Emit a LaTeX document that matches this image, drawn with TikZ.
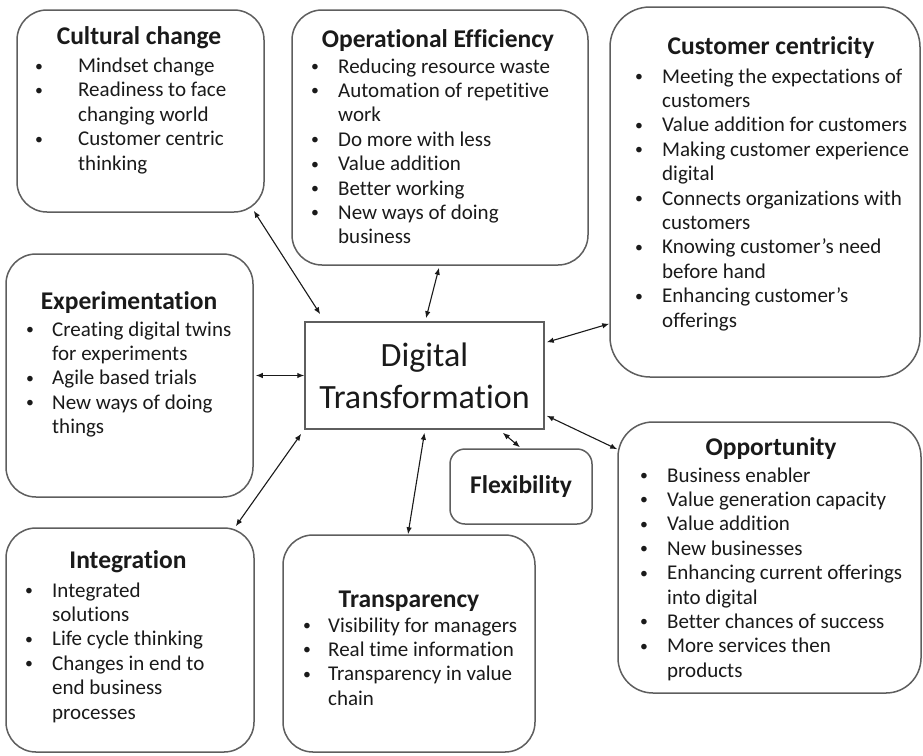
\documentclass[tikz,border=0pt]{standalone}
\usepackage{fontspec}
\setmainfont{Carlito}[Ligatures={NoCommon}]
\usetikzlibrary{arrows.meta, positioning}

\definecolor{edgegray}{HTML}{5E5E5E}
\definecolor{inkblack}{HTML}{1A1A1A}

\newlength{\bulw}
\newcommand{\itm}{\makebox[\bulw][l]{\raisebox{1.5pt}{\scalebox{0.75}{\textbullet}}}}
\newcommand{\cnt}{\hspace*{\bulw}}
\newcommand{\blist}[2]{\setlength{\bulw}{#1}\begin{tabular}[t]{@{}l@{}}#2\end{tabular}}

\begin{document}
\begin{tikzpicture}[
    x=1pt, y=-1pt,
    card/.style={rectangle, rounded corners=30pt, draw=edgegray, line width=1.5pt, inner sep=0pt},
    hub/.style={rectangle, draw=edgegray, line width=1.5pt, minimum width=239pt, minimum height=107pt, align=center, font=\fontsize{34}{42}\selectfont, text=inkblack},
    head/.style={anchor=base, inner sep=0pt, font=\fontsize{25.5}{30}\selectfont\bfseries, text=inkblack},
    items/.style={anchor=base west, inner sep=0pt, font=\fontsize{21}{24.4}\selectfont, text=inkblack},
    arrow/.style={{Latex[length=7pt,width=5.5pt]}-{Latex[length=7pt,width=5.5pt]}, line width=1.1pt, draw=inkblack}
]
\fill[white] (0,0) rectangle (923,755);
\useasboundingbox (0,0) rectangle (923,755);

% Centre
\node[hub] (dt) at (424.5,375.5) {Digital\\Transformation};

% Surrounding boxes
\node[card, minimum width=247pt, minimum height=202pt] (cult) at (140.5,111) {};
\node[card, minimum width=296pt, minimum height=255pt] (opeff) at (440,137.5) {};
\node[card, rounded corners=40pt, minimum width=310pt, minimum height=370pt] (cust) at (765,192) {};
\node[card, minimum width=247pt, minimum height=243pt] (exper) at (129.5,375.5) {};
\node[card, minimum width=248pt, minimum height=224pt] (integ) at (130,640) {};
\node[card, minimum width=252pt, minimum height=217pt] (transp) at (409,643.5) {};
\node[card, rounded corners=35pt, minimum width=303pt, minimum height=271pt] (opp) at (769.5,557.5) {};
\node[card, rounded corners=15pt, minimum width=142pt, minimum height=75pt,
      font=\fontsize{25.5}{30}\selectfont\bfseries, text=inkblack] (flex) at (521,486.5) {Flexibility};

% Headings
\node[head] (cult-t) at (139,44) {Cultural change};
\node[head] (opeff-t) at (438,47) {Operational Efficiency};
\node[head] (cust-t) at (771,54) {Customer centricity};
\node[head] (exper-t) at (129,309) {Experimentation};
\node[head] (integ-t) at (128,568) {Integration};
\node[head] (transp-t) at (409,607) {Transparency};
\node[head] (opp-t) at (771,455) {Opportunity};

% Bullet lists
\node[items] (cult-l) at (35,72.5) {\blist{43pt}{%
  \itm Mindset change\\
  \itm Readiness to face\\
  \cnt changing world\\
  \itm Customer centric\\
  \cnt thinking}};
\node[items] (opeff-l) at (311,73) {\blist{27pt}{%
  \itm Reducing resource waste\\
  \itm Automation of repetitive\\
  \cnt work\\
  \itm Do more with less\\
  \itm Value addition\\
  \itm Better working\\
  \itm New ways of doing\\
  \cnt business}};
\node[items] (cust-l) at (635,83) {\blist{27pt}{%
  \itm Meeting the expectations of\\
  \cnt customers\\
  \itm Value addition for customers\\
  \itm Making customer experience\\
  \cnt digital\\
  \itm Connects organizations with\\
  \cnt customers\\
  \itm Knowing customer’s need\\
  \cnt before hand\\
  \itm Enhancing customer’s\\
  \cnt offerings}};
\node[items] (exper-l) at (26,336) {\blist{26pt}{%
  \itm Creating digital twins\\
  \cnt for experiments\\
  \itm Agile based trials\\
  \itm New ways of doing\\
  \cnt things}};
\node[items] (integ-l) at (25,597) {\blist{27pt}{%
  \itm Integrated\\
  \cnt solutions\\
  \itm Life cycle thinking\\
  \itm Changes in end to\\
  \cnt end business\\
  \cnt processes}};
\node[items] (transp-l) at (303,632) {\blist{25pt}{%
  \itm Visibility for managers\\
  \itm Real time information\\
  \itm Transparency in value\\
  \cnt chain}};
\node[items] (opp-l) at (640,482) {\blist{27pt}{%
  \itm Business enabler\\
  \itm Value generation capacity\\
  \itm Value addition\\
  \itm New businesses\\
  \itm Enhancing current offerings\\
  \cnt into digital\\
  \itm Better chances of success\\
  \itm More services then\\
  \cnt products}};

% Arrows
\draw[arrow] ([shift={(-11,-2)}]cult.south east) -- ([shift={(16,-7)}]dt.north west);
\draw[arrow] ([shift={(-1,2)}]opeff.south) -- ([shift={(1.5,-3)}]dt.north);
\draw[arrow] ([shift={(0,-54)}]cust.south west) -- ([shift={(2,21)}]dt.north east);
\draw[arrow] ([shift={(2,-14)}]dt.south east) -- ([shift={(0,28)}]opp.north west);
\draw[arrow] ([shift={(2,0)}]exper.east) -- (dt.west);
\draw[arrow] ([shift={(-19,-1)}]integ.north east) -- ([shift={(-3,4)}]dt.south west);
\draw[arrow] ([shift={(-1,0)}]transp.north) -- ([shift={(0,3)}]dt.south);
\draw[arrow] ([shift={(-42,3)}]dt.south east) -- ([shift={(-1,-1)}]flex.north);

\end{tikzpicture}
\end{document}
